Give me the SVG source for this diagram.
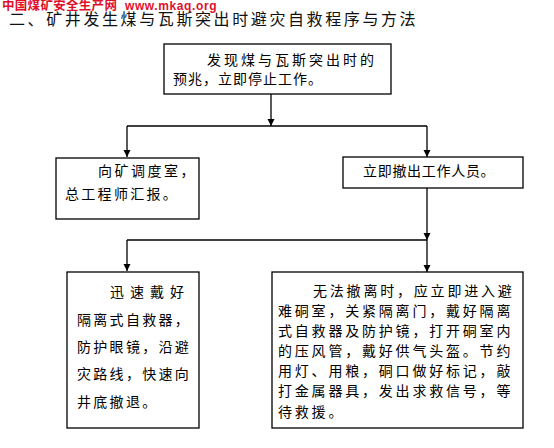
<svg xmlns="http://www.w3.org/2000/svg" width="554" height="448" viewBox="0 0 554 448">
<style>
.bx{fill:#fff;stroke:#000;stroke-width:1.3}
.t{font-family:"Noto Sans CJK SC","Noto Sans CJK JP",sans-serif;font-size:14px;fill:#000}
.ln{fill:none;stroke:#000;stroke-width:1.3}
.wm{font-weight:bold;fill:#e0102a}
</style>
<defs>
<marker id="ah" markerWidth="8" markerHeight="8" refX="7" refY="4" orient="auto" markerUnits="userSpaceOnUse">
<path d="M0,0.5 L7,4 L0,7.5 Z" fill="#000"/>
</marker>
</defs>
<rect width="554" height="448" fill="#fff"/>
<text class="wm" x="2" y="10" font-family="'Noto Sans CJK SC',sans-serif" font-size="12.5" letter-spacing="0.3">中国煤矿安全生产网</text>
<text class="wm" x="125" y="10" font-family="'Liberation Sans',sans-serif" font-size="12" letter-spacing="0.6">www.mkaq.org</text>
<text x="9" y="25" font-family="'Noto Sans CJK SC',sans-serif" font-size="16" letter-spacing="2.6" fill="#111">二、矿井发生煤与瓦斯突出时避灾自救程序与方法</text>
<g id="connectors">
<path class="ln" d="M271,94 V126" marker-end="url(#ah)"/>
<path class="ln" d="M127,126 H427"/>
<path class="ln" d="M127,126 V157" marker-end="url(#ah)"/>
<path class="ln" d="M427,126 V157" marker-end="url(#ah)"/>
<path class="ln" d="M427,188 V240" marker-end="url(#ah)"/>
<path class="ln" d="M127,240 H427"/>
<path class="ln" d="M127,240 V271" marker-end="url(#ah)"/>
<path class="ln" d="M427,240 V272" marker-end="url(#ah)"/>
</g>
<g id="n1">
<rect class="bx" x="164" y="44" width="227" height="50"/>
<text class="t" x="207" y="65" letter-spacing="3">发现煤与瓦斯突出时的</text>
<text class="t" x="173" y="84" letter-spacing="1">预兆，立即停止工作。</text>
</g>
<g id="n2">
<rect class="bx" x="56" y="158" width="143" height="61"/>
<text class="t" x="98" y="176" letter-spacing="2.5">向矿调度室，</text>
<text class="t" x="65" y="199" letter-spacing="2.3">总工程师汇报。</text>
</g>
<g id="n3">
<rect class="bx" x="343" y="157" width="180" height="31"/>
<text class="t" x="363" y="176" letter-spacing="0.7">立即撤出工作人员。</text>
</g>
<g id="n4">
<rect class="bx" x="67" y="272" width="132" height="156"/>
<text class="t" x="110" y="297" letter-spacing="6">迅速戴好</text>
<text class="t" x="77" y="325" letter-spacing="2.3">隔离式自救器，</text>
<text class="t" x="77" y="352" letter-spacing="2.3">防护眼镜，沿避</text>
<text class="t" x="77" y="379" letter-spacing="2.3">灾路线，快速向</text>
<text class="t" x="77" y="407" letter-spacing="2.3">井底撤退。</text>
</g>
<g id="n5">
<rect class="bx" x="272" y="272" width="251" height="156"/>
<text class="t" x="313" y="296" letter-spacing="2.8">无法撤离时，应立即进入避</text>
<text class="t" x="278" y="316" letter-spacing="2.8">难硐室，关紧隔离门，戴好隔离</text>
<text class="t" x="278" y="336" letter-spacing="2.8">式自救器及防护镜，打开硐室内</text>
<text class="t" x="278" y="356" letter-spacing="2.8">的压风管，戴好供气头盔。节约</text>
<text class="t" x="278" y="376" letter-spacing="2.8">用灯、用粮，硐口做好标记，敲</text>
<text class="t" x="278" y="396" letter-spacing="2.8">打金属器具，发出求救信号，等</text>
<text class="t" x="278" y="417" letter-spacing="2.8">待救援。</text>
</g>
</svg>
